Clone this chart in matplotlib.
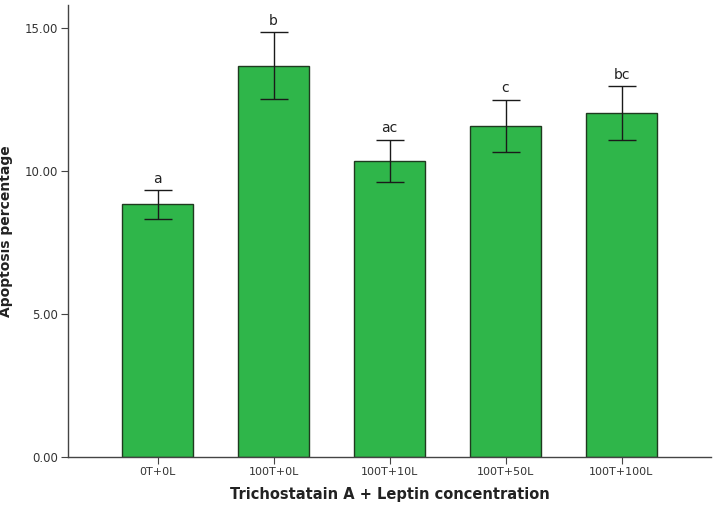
import numpy as np
import matplotlib
matplotlib.use("Agg")
import matplotlib.pyplot as plt

groups = ["0T+0L", "100T+0L", "100T+10L", "100T+50L", "100T+100L"]
means = [8.83, 13.68, 10.36, 11.57, 12.03]
errs = [0.51, 1.18, 0.74, 0.92, 0.93]
letters = ["a", "b", "ac", "c", "bc"]

fig = plt.figure(figsize=(7.18, 5.09), dpi=100)
ax = fig.add_axes([0.095, 0.102, 0.895, 0.888])

x = np.arange(len(groups))
ax.bar(x, means, width=0.61, color="#2fb64a", edgecolor="#1f3a1f", linewidth=1.0, zorder=2)
ax.errorbar(x, means, yerr=errs, fmt="none", ecolor="#1a1a1a", elinewidth=1.0,
            capsize=10, capthick=1.0, zorder=3)
for xi, m, e, lab in zip(x, means, errs, letters):
    ax.text(xi, m + e + 0.15, lab, ha="center", va="bottom", fontsize=10, color="#222222")

ax.set_xlim(-0.77, 4.77)
ax.set_ylim(0, 15.8)
ax.set_yticks([0, 5, 10, 15])
ax.set_yticklabels(["0.00", "5.00", "10.00", "15.00"], fontsize=8.5, color="#333333")
ax.set_xticks(x)
ax.set_xticklabels(groups, fontsize=8, color="#333333")
ax.spines["top"].set_visible(False)
ax.spines["right"].set_visible(False)
for s in ["left", "bottom"]:
    ax.spines[s].set_color("#444444")
    ax.spines[s].set_linewidth(1.0)
ax.tick_params(axis="both", length=5, color="#444444", pad=2)

ax.set_ylabel("Apoptosis percentage", fontsize=10, fontweight="bold", color="#222222", labelpad=9)
ax.set_xlabel("Trichostatain A + Leptin concentration", fontsize=10.5, fontweight="bold",
              color="#222222", labelpad=7)

fig.savefig("out.png", dpi=100)
